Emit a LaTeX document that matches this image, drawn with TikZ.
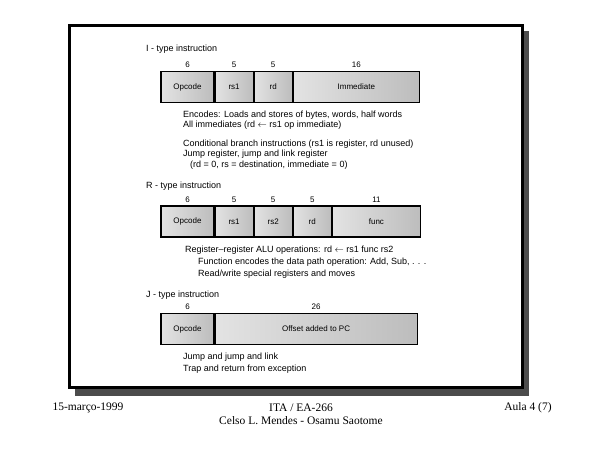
\documentclass[tikz,border=0pt]{standalone}
\usepackage{fontspec}
\setmainfont{Liberation Serif}
\setsansfont{Liberation Sans}
\usetikzlibrary{positioning}

\begin{document}
\begin{tikzpicture}[x=1pt, y=-1pt,
  every node/.style={font=\sffamily\fontsize{9}{10.8}\selectfont},
  field/.style={draw, line width=1.1pt, left color=gray!22, right color=gray!52,
    minimum height=31pt, inner sep=0pt, font=\sffamily\fontsize{8}{9}\selectfont},
  bits/.style={font=\sffamily\fontsize{8}{9}\selectfont, inner sep=1pt},
  note/.style={anchor=west, inner sep=0pt},
  foot/.style={font=\rmfamily\fontsize{11.5}{13.5}\selectfont, inner sep=0pt}]
\useasboundingbox (0,0) rectangle (600,450);
% slide frame with shadow
\fill[black!70] (75,31) rectangle (529,396);
\draw[line width=3pt, fill=white] (69.5,25.5) rectangle (522.5,387.5);

% I-type
\node[note] (ilab) at (146,49) {I - type instruction};
\node[field, minimum width=53pt] (iop) at (187.5,87) {Opcode};
\node[field, minimum width=38pt, right=0pt of iop] (irs) {rs1};
\node[field, minimum width=38pt, right=0pt of irs] (ird) {rd};
\node[field, minimum width=126pt, right=0pt of ird] (iimm) {Immediate};
\node[bits, above=2pt of iop] {6};
\node[bits, above=2pt of irs] {5};
\node[bits, above=2pt of ird] {5};
\node[bits, above=2pt of iimm] {16};
\node[note] (i1) at (183,115) {Encodes: Loads and stores of bytes, words, half words};
\node[note] (i2) at (183,125) {All immediates (rd $\leftarrow$ rs1 op immediate)};
\node[note] (i3) at (183,144) {Conditional branch instructions (rs1 is register, rd unused)};
\node[note] (i4) at (183,154) {Jump register, jump and link register};
\node[note] (i5) at (190,165) {(rd = 0, rs = destination, immediate = 0)};

% R-type
\node[note] (rlab) at (146,186) {R - type instruction};
\node[field, minimum width=53pt] (rop) at (187.5,221.5) {Opcode};
\node[field, minimum width=38pt, right=0pt of rop] (rrs) {rs1};
\node[field, minimum width=38pt, right=0pt of rrs] (rrt) {rs2};
\node[field, minimum width=38pt, right=0pt of rrt] (rrd) {rd};
\node[field, minimum width=88pt, right=0pt of rrd] (rfn) {func};
\node[bits, above=2pt of rop] {6};
\node[bits, above=2pt of rrs] {5};
\node[bits, above=2pt of rrt] {5};
\node[bits, above=2pt of rrd] {5};
\node[bits, above=2pt of rfn] {11};
\node[note] (r1) at (185,250) {Register–register ALU operations: rd $\leftarrow$ rs1 func rs2};
\node[note] (r2) at (198,262) {Function encodes the data path operation: Add, Sub, . . .};
\node[note] (r3) at (198,274) {Read/write special registers and moves};

% J-type
\node[note] (jlab) at (146,295) {J - type instruction};
\node[field, minimum width=53pt] (jop) at (187.5,329) {Opcode};
\node[field, minimum width=202pt, right=0pt of jop] (joff) {Offset added to PC};
\node[bits, above=2pt of jop] {6};
\node[bits, above=2pt of joff] {26};
\node[note] (j1) at (183,357) {Jump and jump and link};
\node[note] (j2) at (183,369) {Trap and return from exception};

% footer
\node[foot] (date) at (88,408) {15-março-1999};
\node[foot] (course) at (301,408) {ITA / EA-266};
\node[foot] (authors) at (301,421) {Celso L. Mendes - Osamu Saotome};
\node[foot] (page) at (528,408) {Aula 4 (7)};
\end{tikzpicture}
\end{document}
